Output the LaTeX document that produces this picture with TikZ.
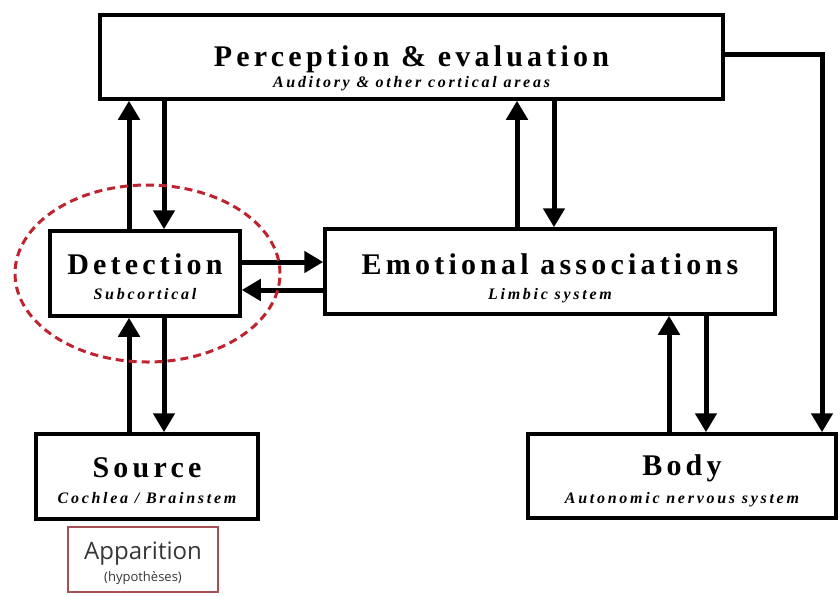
\documentclass[tikz,border=0pt]{standalone}
\usepackage{fontspec}
\setmainfont{Liberation Serif}
\newfontfamily\ttlfont[LetterSpace=14]{Liberation Serif}
\newfontfamily\subfont[LetterSpace=17]{Liberation Serif}
\newfontfamily\appfont{Open Sans}
\usetikzlibrary{arrows.meta,calc,shapes.geometric}
\definecolor{hlred}{RGB}{192,35,48}
\definecolor{appred}{RGB}{165,80,85}
\definecolor{apptext}{RGB}{55,55,55}
\begin{document}
\begin{tikzpicture}[x=1pt,y=-1pt,
  box/.style={draw=black,line width=3.5pt,inner sep=0pt},
  ttl/.style={font=\ttlfont\bfseries\fontsize{30}{32}\selectfont,inner sep=0pt,anchor=base},
  sub/.style={font=\subfont\bfseries\itshape\fontsize{16}{18}\selectfont,inner sep=0pt,anchor=base},
  arr/.style={line width=5pt,-{Triangle[length=19pt,width=21pt]}},
  appbox/.style={draw=appred,line width=1.6pt,inner sep=0pt},
  hlstyle/.style={draw=hlred,line width=3pt,dash pattern=on 8pt off 5pt,ellipse,inner sep=0pt}
]
\fill[white] (0,0) rectangle (840,595);
\useasboundingbox (0,0) rectangle (840,595);

% boxes
\node[box,minimum width=623pt,minimum height=84pt] (perc) at (411.5,57) {};
\node[box,minimum width=190pt,minimum height=85pt] (det) at (145,273.5) {};
\node[box,minimum width=450pt,minimum height=85pt] (emo) at (550,271.5) {};
\node[box,minimum width=222pt,minimum height=85pt] (src) at (147,476.5) {};
\node[box,minimum width=308pt,minimum height=84pt] (body) at (682,476) {};
\node[appbox,minimum width=150pt,minimum height=65pt] (app) at (143,559.5) {};

% texts
\node[ttl] (percT) at (411.5,66) {Perception \& evaluation};
\node[sub] (percS) at (411.5,87) {Auditory \& other cortical areas};
\node[ttl] (detT) at (145,274) {Detection};
\node[sub] (detS) at (145,299) {Subcortical};
\node[ttl] (emoT) at (550,274) {Emotional associations};
\node[sub] (emoS) at (550,299) {Limbic system};
\node[ttl] (srcT) at (147,477) {Source};
\node[sub] (srcS) at (147,503) {Cochlea / Brainstem};
\node[ttl] (bodyT) at (682,475) {Body};
\node[sub] (bodyS) at (682,503) {Autonomic nervous system};
\node[font=\appfont\fontsize{24}{26}\selectfont,text=apptext,inner sep=0pt,anchor=base] (appT) at (143,559) {Apparition};
\node[font=\appfont\fontsize{13}{15}\selectfont,text=apptext,inner sep=0pt,anchor=base] (appS) at (143,581) {(hypothèses)};

% columns and rows for connectors
\coordinate (c1) at (129,0);
\coordinate (c2) at (164,0);
\coordinate (c3) at (517,0);
\coordinate (c4) at (554,0);
\coordinate (c5) at (669,0);
\coordinate (c6) at (706,0);
\coordinate (c7) at (822,0);
\coordinate (r1) at (0,262);
\coordinate (r2) at (0,290);
\coordinate (r3) at (0,54);

% connectors
\draw[arr] (det.north -| c1) -- (perc.south -| c1);
\draw[arr] (perc.south -| c2) -- (det.north -| c2);
\draw[arr] (emo.north -| c3) -- (perc.south -| c3);
\draw[arr] (perc.south -| c4) -- (emo.north -| c4);
\draw[arr] (det.east |- r1) -- (emo.west |- r1);
\draw[arr] (emo.west |- r2) -- (det.east |- r2);
\draw[arr] (src.north -| c1) -- (det.south -| c1);
\draw[arr] (det.south -| c2) -- (src.north -| c2);
\draw[arr] (body.north -| c5) -- (emo.south -| c5);
\draw[arr] (emo.south -| c6) -- (body.north -| c6);
\draw[arr] (perc.east |- r3) -| (body.north -| c7);

% highlight
\node[hlstyle,minimum width=265pt,minimum height=177pt] (hl) at (147.5,273.5) {};
\end{tikzpicture}
\end{document}
